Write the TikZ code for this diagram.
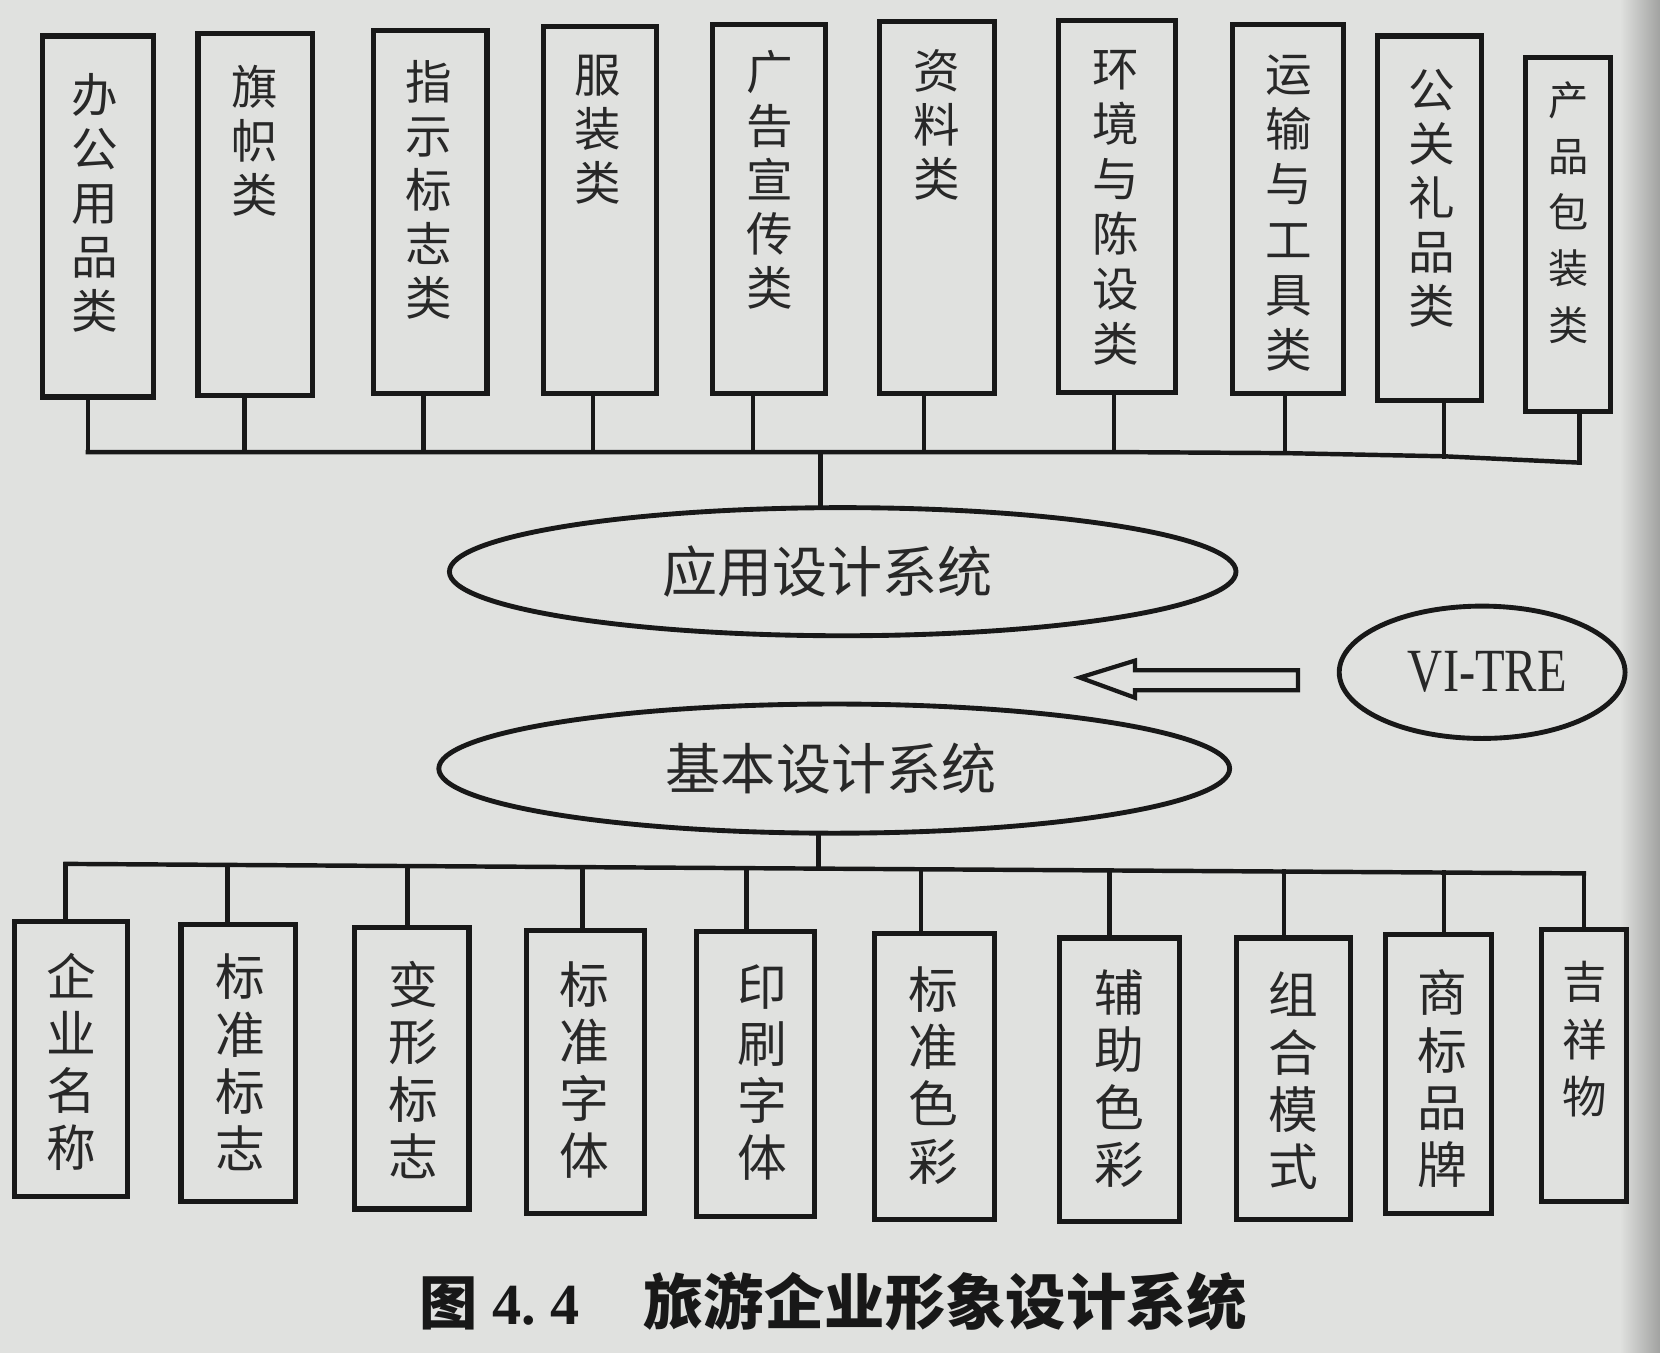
\documentclass[tikz,border=0pt]{standalone}
\usepackage{fontspec}
\usepackage{graphicx}
\newfontfamily\cjk{Noto Sans CJK SC}
\newfontfamily\vifont{Liberation Serif}
\usetikzlibrary{shapes.geometric}
\definecolor{paper}{RGB}{224,225,223}
\definecolor{ink}{RGB}{24,24,24}
\definecolor{txt}{RGB}{40,40,40}
\begin{document}
\begin{tikzpicture}[x=1pt,y=-1pt,
  box/.style={draw=ink, line width=4.8pt, inner sep=0pt},
  vt/.style={anchor=north, align=center, inner sep=0pt, text=txt, font=\cjk\fontsize{44}{51}\selectfont},
  vb/.style={anchor=north, align=center, inner sep=0pt, text=txt, font=\cjk\fontsize{47}{54}\selectfont},
  link/.style={draw=ink, line width=4.2pt, line cap=rect},
  oval/.style={ellipse, draw=ink, line width=4.6pt, inner sep=0pt, text=txt}]
\fill[paper] (0,0) rectangle (1568,1278);
\shade[left color=paper, right color=paper!72!black, draw=none] (1530,0) rectangle (1568,1278);
\useasboundingbox (0,0) rectangle (1568,1278);

% ---- top boxes ----
\node[box, minimum width=105, minimum height=341] (t1) at (92.5,204.5) {};
\node[box, minimum width=108, minimum height=342] (t2) at (241,203) {};
\node[box, minimum width=107, minimum height=343] (t3) at (406.5,200.5) {};
\node[box, minimum width=107, minimum height=347] (t4) at (566.5,198.5) {};
\node[box, minimum width=107, minimum height=349] (t5) at (726.5,197.5) {};
\node[box, minimum width=108, minimum height=352] (t6) at (885,196) {};
\node[box, minimum width=110, minimum height=352] (t7) at (1055,195) {};
\node[box, minimum width=105, minimum height=349] (t8) at (1216.5,197.5) {};
\node[box, minimum width=98, minimum height=344] (t9) at (1350,206) {};
\node[box, minimum width=80, minimum height=335] (t10) at (1481,221.5) {};

\node[vt] (tt1) at (90,69) {办\\公\\用\\品\\类};
\node[vt] (tt2) at (241,61) {旗\\帜\\类};
\node[vt] (tt3) at (405,57) {指\\示\\标\\志\\类};
\node[vt] (tt4) at (565,52) {服\\装\\类};
\node[vt] (tt5) at (727,47) {广\\告\\宣\\传\\类};
\node[vt] (tt6) at (885,47) {资\\料\\类};
\node[vt, font=\cjk\fontsize{44}{52}\selectfont] (tt7) at (1054,47) {环\\境\\与\\陈\\设\\类};
\node[vt, font=\cjk\fontsize{44}{52}\selectfont] (tt8) at (1217,52) {运\\输\\与\\工\\具\\类};
\node[vt] (tt9) at (1352,65) {公\\关\\礼\\品\\类};
\node[vt, font=\cjk\fontsize{38}{53}\selectfont] (tt10) at (1482,77) {产\\品\\包\\装\\类};

% ---- top bus ----
\coordinate (u1) at (83,427);
\coordinate (u2) at (231,427);
\coordinate (u3) at (400,427);
\coordinate (u4) at (560,427);
\coordinate (u5) at (711,427);
\coordinate (u6) at (873,427);
\coordinate (u7) at (1052,427);
\coordinate (u8) at (1214,428);
\coordinate (u9) at (1364,431);
\coordinate (u10) at (1492,437);
\coordinate (uc) at (775,427);
\draw[link, line join=round] (u1) -- (u2) -- (u3) -- (u4) -- (u5) -- (u6) -- (u7) -- (u8) -- (u9) -- (u10);
\foreach \i in {1,...,10} { \draw[link] (t\i.south -| u\i) -- (u\i); }

% ---- ellipses ----
\node[oval, minimum width=743, minimum height=121, font=\cjk\fontsize{52}{56}\selectfont] (e1) at (796,540) {应用设计系统\hspace*{28pt}};
\node[oval, minimum width=747, minimum height=122, font=\cjk\fontsize{52}{56}\selectfont] (e2) at (788,726) {基本设计系统\hspace*{6pt}};
\node[oval, minimum width=270, minimum height=125] (vi) at (1400,635) {\hspace*{10pt}\scalebox{0.79}[1]{\vifont\fontsize{58}{60}\selectfont VI-TRE}};
\draw[link] (uc) -- (uc |- e1.north);

% ---- hollow arrow ----
\draw[draw=ink, line width=4pt, line join=miter]
  (1020,640) -- (1072,624) -- (1072,633) -- (1226,633) -- (1226,652) -- (1072,652) -- (1072,659) -- cycle;

% ---- bottom bus ----
\coordinate (lc) at (773,820.5);
\coordinate (l1) at (62,816);
\coordinate (l2) at (215,817);
\coordinate (l3) at (385,818);
\coordinate (l4) at (550,819.1);
\coordinate (l5) at (705,820);
\coordinate (l6) at (870,821.1);
\coordinate (l7) at (1048,822.2);
\coordinate (l8) at (1213,823.2);
\coordinate (l9) at (1364,824.2);
\coordinate (l10) at (1496,825);
\draw[link] (e2.south -| lc) -- (lc);
\draw[link] (l1) -- (l10);

% ---- bottom boxes ----
\node[box, minimum width=106, minimum height=260] (b1) at (67,1000) {};
\node[box, minimum width=108, minimum height=262] (b2) at (225,1004) {};
\node[box, minimum width=108, minimum height=266] (b3) at (389,1009) {};
\node[box, minimum width=112, minimum height=267] (b4) at (553,1012.5) {};
\node[box, minimum width=111, minimum height=269] (b5) at (713.5,1014.5) {};
\node[box, minimum width=113, minimum height=270] (b6) at (882.5,1017) {};
\node[box, minimum width=113, minimum height=268] (b7) at (1057.5,1020) {};
\node[box, minimum width=108, minimum height=266] (b8) at (1222,1019) {};
\node[box, minimum width=100, minimum height=263] (b9) at (1359,1014.5) {};
\node[box, minimum width=80, minimum height=257] (b10) at (1496,1006.5) {};
\foreach \i in {1,...,10} { \draw[link] (l\i) -- (l\i |- b\i.north); }

\node[vb] (bt1) at (67,900) {企\\业\\名\\称};
\node[vb] (bt2) at (227,901) {标\\准\\标\\志};
\node[vb] (bt3) at (390,908) {变\\形\\标\\志};
\node[vb] (bt4) at (552,908) {标\\准\\字\\体};
\node[vb] (bt5) at (720,911) {印\\刷\\字\\体};
\node[vb] (bt6) at (882,913) {标\\准\\色\\彩};
\node[vb] (bt7) at (1057,916) {辅\\助\\色\\彩};
\node[vb] (bt8) at (1222,918) {组\\合\\模\\式};
\node[vb] (bt9) at (1362,916) {商\\标\\品\\牌};
\node[vb, font=\cjk\fontsize{42}{54}\selectfont] (bt10) at (1497,908) {吉\\祥\\物};

% ---- caption ----
\node[anchor=base west, inner sep=0pt, text=ink] (cap) at (396,1251)
  {{\cjk\bfseries\fontsize{55}{60}\selectfont 图}\hspace{14pt}{\vifont\bfseries\fontsize{55}{60}\selectfont 4.\hspace{14pt}4}\hspace{60pt}{\cjk\bfseries\fontsize{57}{60}\selectfont 旅游企业形象设计系统}};
\end{tikzpicture}
\end{document}
